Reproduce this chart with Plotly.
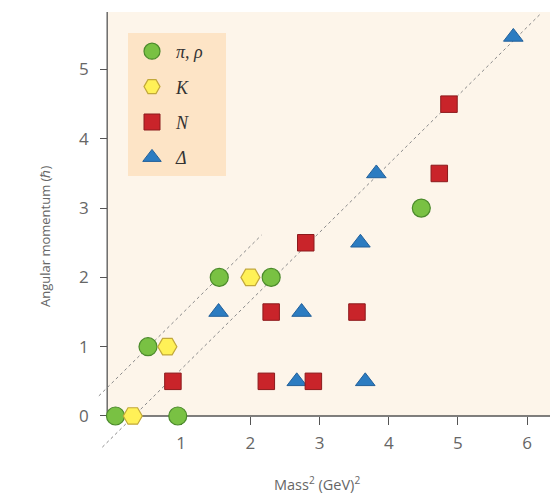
import plotly.graph_objects as go

# ---------------- data ----------------
pi_rho_mass2 = [0.05, 0.95, 0.52, 1.55, 2.30, 4.47]
pi_rho_j = [0, 0, 1, 2, 2, 3]

k_mass2 = [0.30, 0.80, 2.00]
k_j = [0, 1, 2]

n_mass2 = [0.88, 2.23, 2.91, 2.30, 3.54, 2.80, 4.73, 4.87]
n_j = [0.5, 0.5, 0.5, 1.5, 1.5, 2.5, 3.5, 4.5]

delta_mass2 = [1.54, 2.67, 3.66, 2.74, 3.59, 3.82, 5.80]
delta_j = [1.5, 0.5, 0.5, 1.5, 2.5, 3.5, 5.47]

# Regge trajectory guide lines (end points)
long_traj_mass2 = [-0.14, 6.18]
long_traj_j = [-0.45, 5.79]
short_traj_mass2 = [-0.19, 2.16]
short_traj_j = [0.29, 2.61]

x_tick_vals = [1, 2, 3, 4, 5, 6]
y_tick_vals = [0, 1, 2, 3, 4, 5]

# ---------------- layout constants ----------------
W, H = 550, 493
ML, MR, MT, MB = 95, 0, 12, 38
X_RANGE = [-0.246, 6.33]
Y_RANGE = [-0.563, 5.83]
AXIS_X = -0.07  # where the vertical axis line sits

PANEL = "#fdf5ea"
LEGEND_BG = "#fde4c6"
AXIS_COL = "#555555"
TEXT_COL = "#666666"
PAD = "&nbsp;" * 4

fig = go.Figure()

# guide lines
for xs, ys in [(long_traj_mass2, long_traj_j), (short_traj_mass2, short_traj_j)]:
    fig.add_trace(go.Scatter(
        x=xs, y=ys, mode="lines", showlegend=False, hoverinfo="skip",
        line=dict(color="#8a8a8a", width=1, dash="dot"),
    ))

fig.add_trace(go.Scatter(
    x=pi_rho_mass2, y=pi_rho_j, mode="markers", name="<i>π, ρ</i>" + PAD,
    legendgroup="a", legendrank=1, cliponaxis=False,
    marker=dict(symbol="circle", size=18, color="#79c143",
                line=dict(color="#4b8a2b", width=1.2)),
))
fig.add_trace(go.Scatter(
    x=k_mass2, y=k_j, mode="markers", name="<i>K</i>",
    legendgroup="b", legendrank=2, cliponaxis=False,
    marker=dict(symbol="hexagon2", size=19, color="#fff157",
                line=dict(color="#c2a83a", width=1.2)),
))
fig.add_trace(go.Scatter(
    x=delta_mass2, y=delta_j, mode="markers", name="<i>Δ</i>",
    legendgroup="d", legendrank=4, cliponaxis=False,
    marker=dict(symbol="triangle-up", size=17, color="#2c7cc1",
                line=dict(color="#22609a", width=1)),
))
fig.add_trace(go.Scatter(
    x=n_mass2, y=n_j, mode="markers", name="<i>N</i>",
    legendgroup="c", legendrank=3, cliponaxis=False,
    marker=dict(symbol="square", size=16.5, color="#c9242a",
                line=dict(color="#8c1a1c", width=1)),
))

# panel background and axis lines
fig.add_shape(type="rect", xref="x", yref="y", x0=AXIS_X, x1=X_RANGE[1],
              y0=0, y1=Y_RANGE[1], fillcolor=PANEL, line=dict(width=0), layer="below")
fig.add_shape(type="line", xref="x", yref="y", x0=AXIS_X, x1=X_RANGE[1], y0=0, y1=0,
              line=dict(color=AXIS_COL, width=1.3), layer="below")
fig.add_shape(type="line", xref="x", yref="y", x0=AXIS_X, x1=AXIS_X, y0=0, y1=Y_RANGE[1],
              line=dict(color=AXIS_COL, width=1.3), layer="below")

x_axis_pos = (0 - Y_RANGE[0]) / (Y_RANGE[1] - Y_RANGE[0])
y_axis_pos = (AXIS_X - X_RANGE[0]) / (X_RANGE[1] - X_RANGE[0])

tick_font = dict(family="Open Sans", size=17, color=TEXT_COL)

fig.update_layout(
    width=W, height=H,
    margin=dict(l=ML, r=MR, t=MT, b=MB),
    paper_bgcolor="white", plot_bgcolor="white",
    xaxis=dict(range=X_RANGE, showgrid=False, zeroline=False, showline=False,
               tickmode="array", tickvals=x_tick_vals, ticks="outside", ticklen=8,
               tickwidth=1.3, tickcolor=AXIS_COL, tickfont=tick_font,
               anchor="free", position=x_axis_pos, layer="below traces",
               ticklabelstandoff=4),
    yaxis=dict(range=Y_RANGE, showgrid=False, zeroline=False, showline=False,
               tickmode="array", tickvals=y_tick_vals, ticks="outside", ticklen=7,
               tickwidth=1.3, tickcolor=AXIS_COL, tickfont=tick_font,
               anchor="free", position=y_axis_pos, layer="below traces",
               ticklabelstandoff=8),
    legend=dict(x=(128 - ML) / (W - ML - MR), y=(H - MB - 33) / (H - MT - MB),
                xanchor="left", yanchor="top", bgcolor=LEGEND_BG,
                font=dict(family="Liberation Serif", size=18, color="#333333"),
                tracegroupgap=9, itemwidth=38),
    annotations=[
        dict(text="Angular momentum (ℏ)", xref="paper", yref="paper",
             x=(45 - ML) / (W - ML - MR), y=(H - MB - 237) / (H - MT - MB),
             textangle=-90, showarrow=False, xanchor="center", yanchor="middle",
             font=dict(family="Open Sans", size=13, color=TEXT_COL)),
        dict(text="Mass<sup>2</sup> (GeV)<sup>2</sup>", xref="paper", yref="paper",
             x=(317 - ML) / (W - ML - MR), y=(H - MB - 483) / (H - MT - MB),
             showarrow=False, xanchor="center", yanchor="middle",
             font=dict(family="Open Sans", size=14.5, color=TEXT_COL)),
    ],
)

fig.write_html("out.html", config={"displayModeBar": False},
               post_script="document.body.style.margin='0px';")
